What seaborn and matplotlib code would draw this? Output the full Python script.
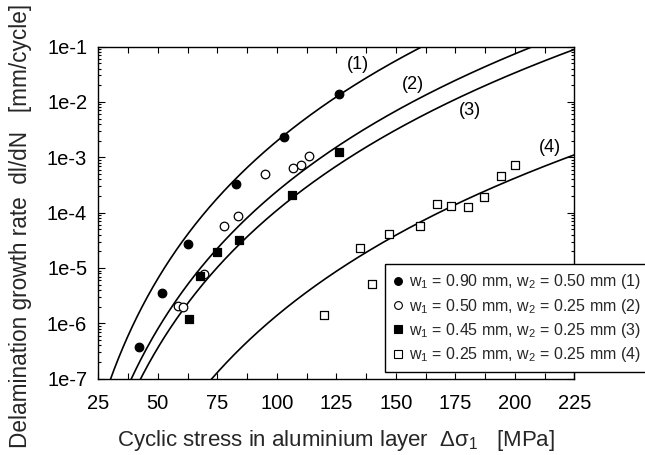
import numpy as np
import pandas as pd
import matplotlib
matplotlib.use("Agg")
import matplotlib.pyplot as plt
import seaborn as sns
from matplotlib.ticker import FixedLocator, LogLocator, NullFormatter, FuncFormatter

# ---------------- data ----------------
s1_x = [42.1, 51.8, 62.6, 83.0, 103.0, 126.3]
s1_y = [3.7e-7, 3.5e-6, 2.74e-5, 3.3e-4, 2.29e-3, 1.37e-2]
s2_x = [58.4, 60.4, 69.6, 77.9, 83.9, 95.0, 106.9, 110.0, 113.6]
s2_y = [2.06e-6, 2.0e-6, 7.7e-6, 5.65e-5, 8.8e-5, 4.9e-4, 6.5e-4, 7.3e-4, 1.04e-3]
s3_x = [63.2, 67.8, 74.8, 84.3, 106.5, 126.3]
s3_y = [1.2e-6, 7.2e-6, 1.94e-5, 3.2e-5, 2.05e-4, 1.24e-3]
s4_x = [120.0, 135.1, 140.1, 147.2, 160.1, 167.2, 173.3, 180.2, 187.2, 194.1, 200.2]
s4_y = [1.42e-6, 2.32e-5, 5.1e-6, 4.1e-5, 5.7e-5, 1.43e-4, 1.31e-4, 1.26e-4, 1.94e-4, 4.6e-4, 7.1e-4]

series_labels = [
    "w$_1$ = 0.90 mm, w$_2$ = 0.50 mm (1)",
    "w$_1$ = 0.50 mm, w$_2$ = 0.25 mm (2)",
    "w$_1$ = 0.45 mm, w$_2$ = 0.25 mm (3)",
    "w$_1$ = 0.25 mm, w$_2$ = 0.25 mm (4)",
]

# power-law fit curves  dl/dN = 1e-7 * (ds / ds0)^n
curve_names = ["(1)", "(2)", "(3)", "(4)"]
curve_ds0 = [30.2, 38.9, 42.8, 72.7]
curve_n = [8.25, 8.25, 8.25, 8.24]
curve_label_x = [134.0, 157.2, 181.0, 214.7]
curve_label_y = [4.8e-2, 2.1e-2, 6.9e-3, 1.5e-3]

x_ticks = [25, 50, 75, 100, 125, 150, 175, 200, 225]
y_ticks = [1e-7, 1e-6, 1e-5, 1e-4, 1e-3, 1e-2, 1e-1]
y_tick_labels = ["1e-7", "1e-6", "1e-5", "1e-4", "1e-3", "1e-2", "1e-1"]

# ---------------- style ----------------
sns.set_theme(style="ticks")
plt.rcParams["font.family"] = ["Liberation Sans", "DejaVu Sans"]
plt.rcParams["mathtext.fontset"] = "custom"
plt.rcParams["mathtext.rm"] = "Liberation Sans"
plt.rcParams["mathtext.it"] = "Liberation Sans:italic"
plt.rcParams["mathtext.default"] = "regular"

fig = plt.figure(figsize=(6.45, 4.55), dpi=100)
ax = fig.add_axes([98.3 / 645, 1 - 378.7 / 455, (574.3 - 98.3) / 645, (378.7 - 46.5) / 455])
ax.set_yscale("log")
ax.set_xlim(25, 225)
ax.set_ylim(1e-7, 1e-1)

# curves
xgrid = np.linspace(25, 225, 600)
for name, x0, n in zip(curve_names, curve_ds0, curve_n):
    df = pd.DataFrame({"x": xgrid, "y": 1e-7 * (xgrid / x0) ** n})
    sns.lineplot(data=df, x="x", y="y", ax=ax, color="black", lw=1.2, legend=False, zorder=2)

for name, lx, ly in zip(curve_names, curve_label_x, curve_label_y):
    ax.text(lx, ly, name, fontsize=13, ha="center", va="center", color="black")

# points
specs = [
    (s1_x, s1_y, "o", "black", 38),
    (s2_x, s2_y, "o", "white", 38),
    (s3_x, s3_y, "s", "black", 32),
    (s4_x, s4_y, "s", "white", 30),
]
handles = []
for (xs, ys, m, fc, s), lab in zip(specs, series_labels):
    d = pd.DataFrame({"x": xs, "y": ys})
    sns.scatterplot(data=d, x="x", y="y", ax=ax, marker=m, s=s, facecolor=fc,
                    edgecolor="black", linewidth=0.9, zorder=3, label=lab, legend=False)
    h = plt.Line2D([], [], ls="none", marker=m, markersize=5.6 if m == "o" else 5.2,
                   markerfacecolor=fc, markeredgecolor="black", markeredgewidth=0.8)
    handles.append(h)

# axes formatting
ax.xaxis.set_major_locator(FixedLocator(x_ticks))
ax.xaxis.set_minor_locator(FixedLocator([t + 12.5 for t in x_ticks[:-1]]))
ax.yaxis.set_major_locator(FixedLocator(y_ticks))
ax.yaxis.set_major_formatter(FuncFormatter(
    lambda v, p: y_tick_labels[int(np.argmin([abs(np.log10(t) - np.log10(v)) for t in y_ticks]))]))
ax.yaxis.set_minor_locator(LogLocator(base=10, subs=np.arange(2, 10), numticks=20))
ax.yaxis.set_minor_formatter(NullFormatter())
ax.tick_params(which="both", direction="in", top=True, right=True, colors="black",
               labelsize=14.5, width=0.8)
ax.tick_params(axis="x", which="major", length=4.5, pad=11)
ax.tick_params(axis="x", which="minor", length=4.5)
ax.tick_params(axis="y", which="major", length=5, pad=8)
ax.tick_params(axis="y", which="minor", length=2.5)
for sp in ax.spines.values():
    sp.set_visible(True)
    sp.set_color("black")
    sp.set_linewidth(1.0)

ax.set_xlabel("Cyclic stress in aluminium layer  Δσ$_1$   [MPa]", fontsize=16, labelpad=11)
ax.set_ylabel("Delamination growth rate  dl/dN   [mm/cycle]", fontsize=16.3)
ax.yaxis.set_label_coords(-0.139, 0.461)

leg = fig.legend(handles=handles, labels=series_labels, loc="upper left",
                 bbox_to_anchor=(385 / 645, 1 - 264.3 / 455), fontsize=11.5,
                 frameon=True, fancybox=False, framealpha=1, edgecolor="black",
                 handlelength=0.6, handletextpad=0.4, labelspacing=0.33,
                 borderpad=0.5, borderaxespad=0)
leg.get_frame().set_linewidth(1.0)

fig.savefig("out.png", dpi=100)
